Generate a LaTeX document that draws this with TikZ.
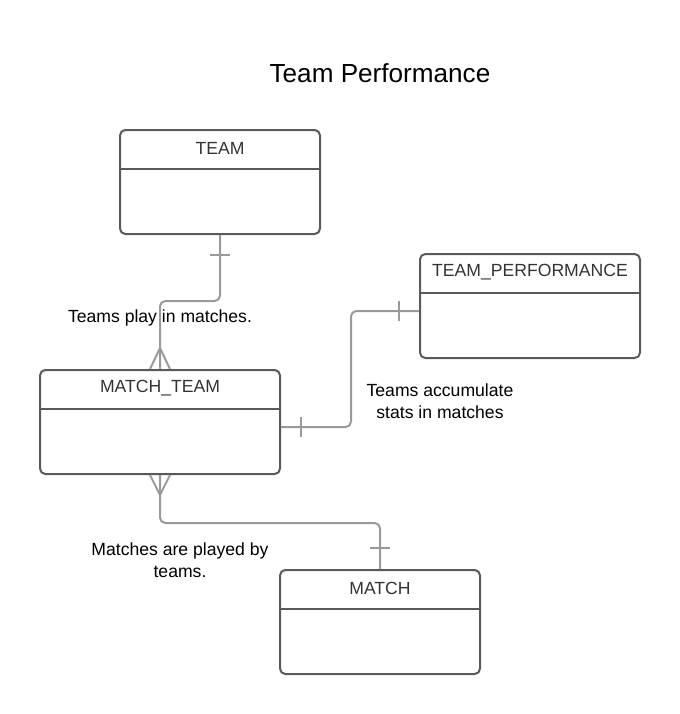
\documentclass[tikz,border=0pt]{standalone}
\usepackage{fontspec}
\setmainfont{Liberation Sans}
\usetikzlibrary{calc}
\definecolor{boxline}{HTML}{5A5A5A}
\definecolor{relline}{HTML}{9A9A9A}
\definecolor{headtext}{HTML}{333333}
\tikzset{
  entity/.style={draw=boxline, line width=1.5pt, rounded corners=4pt, minimum height=78pt, inner sep=0pt},
  divider/.style={draw=boxline, line width=1.5pt},
  etitle/.style={text=headtext, font=\fontsize{13.2}{16}\selectfont, inner sep=0.75pt},
  rel/.style={draw=relline, line width=1.5pt, rounded corners=4pt},
  relmark/.style={draw=relline, line width=1.5pt},
  lbl/.style={font=\fontsize{13.2}{16.5}\selectfont, align=center, inner sep=0.75pt},
}
\begin{document}
\begin{tikzpicture}[x=0.75pt,y=0.75pt,yscale=-1,xscale=1]
\useasboundingbox (0,0) rectangle (680,714);

% Title
\node (title) at (380,73) [font=\fontsize{19.6}{23}\selectfont, inner sep=0.75pt] {Team Performance};

%Entity: TEAM
\node (team) at (220,182) [entity, minimum width=150pt] {};
\draw[divider] ($(team.north west)+(0,40)$) -- ($(team.north east)+(0,40)$);
\node (teamt) at ($(team.north)+(0,19)$) [etitle] {TEAM};
%Entity: TEAM_PERFORMANCE
\node (tp) at (530,306) [entity, minimum width=165pt] {};
\draw[divider] ($(tp.north west)+(0,40)$) -- ($(tp.north east)+(0,40)$);
\node (tpt) at ($(tp.north)+(0,19)$) [etitle] {TEAM\_PERFORMANCE};
%Entity: MATCH_TEAM
\node (mt) at (160,422) [entity, minimum width=180pt] {};
\draw[divider] ($(mt.north west)+(0,40)$) -- ($(mt.north east)+(0,40)$);
\node (mtt) at ($(mt.north)+(0,19)$) [etitle] {MATCH\_TEAM};
%Entity: MATCH
\node (match) at (380,622) [entity, minimum width=150pt] {};
\draw[divider] ($(match.north west)+(0,40)$) -- ($(match.north east)+(0,40)$);
\node (matcht) at ($(match.north)+(0,19)$) [etitle] {MATCH};

%Relation: TEAM -- MATCH_TEAM
\draw[rel] (team.south) -- ++(0,66) -| (mt.north);
\draw[relmark] ($(team.south)+(-10,20)$) -- ++(20,0);
\draw[relmark] ($(mt.north)+(-10,0)$) -- ($(mt.north)+(0,-21)$) -- ($(mt.north)+(10,0)$);
%Relation: MATCH_TEAM -- TEAM_PERFORMANCE
\draw[rel] ($(mt.east)+(0,5)$) -- ++(70,0) |- ($(tp.west)+(0,5)$);
\draw[relmark] ($(mt.east)+(20,-5)$) -- ++(0,20);
\draw[relmark] ($(tp.west)+(-20,-5)$) -- ++(0,20);
%Relation: MATCH_TEAM -- MATCH
\draw[rel] (mt.south) -- ++(0,48) -| (match.north);
\draw[relmark] ($(mt.south)+(-10,0)$) -- ($(mt.south)+(0,20)$) -- ($(mt.south)+(10,0)$);
\draw[relmark] ($(match.north)+(-10,-21)$) -- ++(20,0);

% Text Node
\node (lbl1) at (160,318) [lbl] {Teams play in matches.};
% Text Node
\node (lbl2) at (440,401) [lbl] {Teams accumulate\\stats in matches};
% Text Node
\node (lbl3) at (180,560) [lbl] {Matches are played by\\teams.};
\end{tikzpicture}
\end{document}
